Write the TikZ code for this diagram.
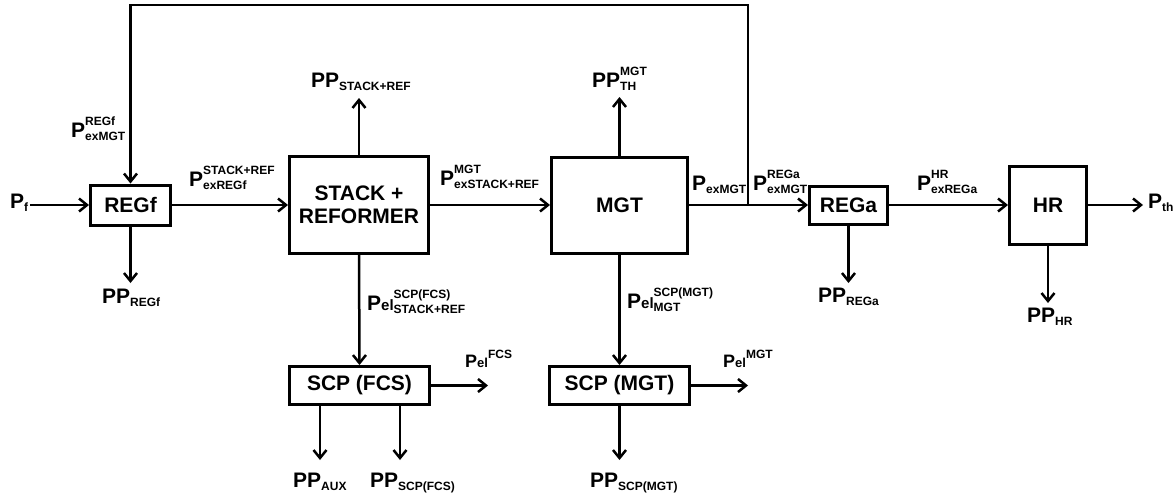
\documentclass[tikz,border=0pt]{standalone}
\usepackage{fontspec}
\setmainfont{Liberation Sans}
\usetikzlibrary{arrows.meta}
\newlength\labw
\newlength\labr
\setlength\labr{12pt}
\newcommand{\scr}{\fontsize{12}{12}\selectfont}
\newcommand{\elf}{\fontsize{15}{15}\selectfont el}
\newcommand{\lab}[3]{#1\setbox0=\hbox{\scr #3}\setbox2=\hbox{\scr #2}\labw=\wd0\ifdim\wd2>\labw\labw=\wd2\fi\rlap{\raise\labr\box0}\rlap{\lower3.5pt\box2}\hspace*{\labw}}
\begin{document}
\begin{tikzpicture}[x=1pt,y=-1pt,
  box/.style={draw, line width=3pt, inner sep=0pt, font=\bfseries\fontsize{21}{23}\selectfont, align=center},
  arr/.style={line width=2.5pt, line join=miter, -{Straight Barb[length=8pt,width=13pt]}},
  lbl/.style={anchor=base west, inner sep=0pt, font=\bfseries\fontsize{21}{23}\selectfont},
  small/.style={font=\bfseries\fontsize{18}{20}\selectfont}]
\useasboundingbox (0,0) rectangle (1176,493);
% boxes
\node[box, minimum width=80pt, minimum height=40pt] (regf) at (130.5,205) {REGf};
\node[box, minimum width=139pt, minimum height=97pt] (stack) at (359,205) {STACK +\\REFORMER};
\node[box, minimum width=136pt, minimum height=96pt] (mgt) at (619.5,205) {MGT};
\node[box, minimum width=78pt, minimum height=38pt] (rega) at (848.5,205) {REGa};
\node[box, minimum width=77pt, minimum height=78pt] (hr) at (1048,205) {HR};
\node[box, minimum width=140pt, minimum height=38pt] (scpf) at (359.5,385.5) {SCP (FCS)};
\node[box, minimum width=140pt, minimum height=38pt] (scpm) at (619.5,385.5) {SCP (MGT)};
% coordinates
\coordinate (pfs) at (30,205);
\coordinate (fbj) at (748,205);
\coordinate (fbR) at (748,5);
\coordinate (fbL) at (130.5,5);
\coordinate (ppregf) at (130.5,283);
\coordinate (ppstack) at (359,98);
\coordinate (ppth) at (619.5,97);
\coordinate (pprega) at (848.5,283);
\coordinate (pth) at (1143,205);
\coordinate (pphr) at (1048,303);
\coordinate (pelfcs) at (488,385.5);
\coordinate (pelmgt) at (748,385.5);
\coordinate (ppaux) at (320,460);
\coordinate (ppscpf) at (400,460);
\coordinate (ppscpm) at (619.5,460);
% connectors
\draw[arr] (pfs) -- (regf.west);
\draw[arr] (fbj) -- (fbR) -- (fbL) -- (regf.north);
\draw[arr] (regf.south) -- (ppregf);
\draw[arr] (regf) -- (stack);
\draw[arr] (stack.north) -- (ppstack);
\draw[arr] (stack) -- (mgt);
\draw[arr] (mgt.north) -- (ppth);
\draw[arr] (mgt) -- (rega);
\draw[arr] (rega.south) -- (pprega);
\draw[arr] (rega) -- (hr);
\draw[arr] (hr.east) -- (pth);
\draw[arr] (hr.south) -- (pphr);
\draw[arr] (stack.south) -- (scpf.north);
\draw[arr] (scpf.east) -- (pelfcs);
\draw[arr] (scpf.south -| ppaux) -- (ppaux);
\draw[arr] (scpf.south -| ppscpf) -- (ppscpf);
\draw[arr] (mgt.south) -- (scpm.north);
\draw[arr] (scpm.east) -- (pelmgt);
\draw[arr] (scpm.south) -- (ppscpm);
% labels
\node[lbl] (l1) at (71,137) {\lab{P}{exMGT}{REGf}};
\node[lbl] (l2) at (189,186) {\lab{P}{exREGf}{STACK+REF}};
\node[lbl] (l3) at (311,87) {\lab{PP}{STACK+REF}{}};
\node[lbl] (l4) at (440,185) {\lab{P}{exSTACK+REF}{MGT}};
\node[lbl] (l5) at (592,87) {\lab{PP}{TH}{MGT}};
\node[lbl] (l6) at (692,190) {\lab{P}{exMGT}{}};
\node[lbl] (l7) at (753,190) {\lab{P}{exMGT}{REGa}};
\node[lbl] (l8) at (917,190) {\lab{P}{exREGa}{HR}};
\node[lbl] (l9) at (1148,208) {\lab{P}{th}{}};
\node[lbl] (l10) at (10,208) {\lab{P}{f}{}};
\node[lbl] (l11) at (102,303) {\lab{PP}{REGf}{}};
\node[lbl] (l12) at (818,302) {\lab{PP}{REGa}{}};
\node[lbl] (l13) at (1027,322) {\lab{PP}{HR}{}};
\node[lbl] (l14) at (367,310) {\lab{P\elf}{STACK+REF}{SCP(FCS)}};
\node[lbl] (l15) at (627,308) {\lab{P\elf}{MGT}{SCP(MGT)}};
\node[lbl, small] (l16) at (465,367) {\setlength\labr{9pt}\lab{P{\fontsize{13}{13}\selectfont el}}{}{FCS}};
\node[lbl, small] (l17) at (723,367) {\setlength\labr{9pt}\lab{P{\fontsize{13}{13}\selectfont el}}{}{MGT}};
\node[lbl] (l18) at (293,487) {\lab{PP}{AUX}{}};
\node[lbl] (l19) at (370,487) {\lab{PP}{SCP(FCS)}{}};
\node[lbl] (l20) at (590,487) {\lab{PP}{SCP(MGT)}{}};
\end{tikzpicture}
\end{document}
